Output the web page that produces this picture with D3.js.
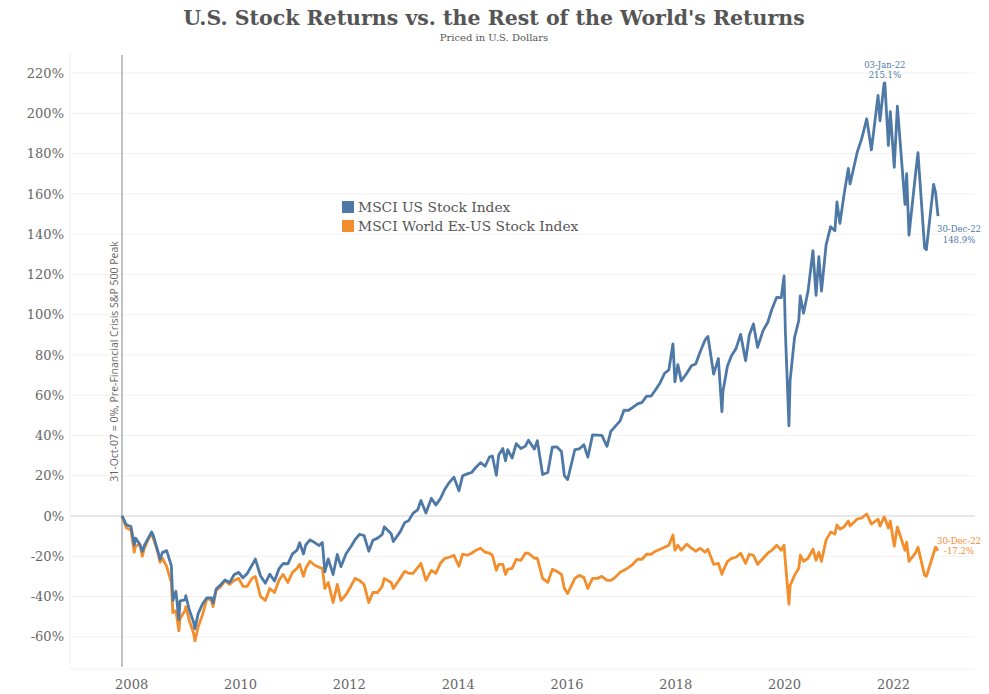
<!DOCTYPE html>
<html><head><meta charset="utf-8">
<script src="https://cdn.jsdelivr.net/npm/d3@7/dist/d3.min.js"></script>
<style>
html,body{margin:0;padding:0;background:#fff;}
svg{display:block;}
</style></head>
<body>
<svg id="chart" width="989" height="694"></svg>
<script>
// ---- DATA (percent change since 31-Oct-07) ----
const dates = [
"2007-10-31","2007-11-30","2007-12-31","2008-01-22","2008-01-31","2008-02-29","2008-03-17","2008-03-31","2008-04-30","2008-05-19","2008-05-30","2008-06-30","2008-07-15","2008-07-31","2008-08-29","2008-09-30","2008-10-10","2008-10-31","2008-11-20","2008-11-28","2008-12-31",
"2009-01-06","2009-01-30","2009-02-27","2009-03-09","2009-03-31","2009-04-30","2009-05-29","2009-06-30","2009-07-10","2009-07-31","2009-08-31","2009-09-30","2009-10-30","2009-11-30","2009-12-31",
"2010-01-29","2010-02-26","2010-03-31","2010-04-23","2010-05-28","2010-06-30","2010-07-30","2010-08-31","2010-09-30","2010-10-29","2010-11-30","2010-12-31",
"2011-01-31","2011-02-18","2011-03-16","2011-03-31","2011-04-29","2011-05-31","2011-06-30","2011-07-22","2011-08-08","2011-08-31","2011-10-03","2011-10-31","2011-11-25","2011-12-30",
"2012-01-31","2012-02-29","2012-03-30","2012-04-30","2012-06-01","2012-06-29","2012-07-31","2012-08-31","2012-09-14","2012-10-31","2012-11-15","2012-12-31",
"2013-01-31","2013-02-28","2013-03-28","2013-04-30","2013-05-21","2013-06-24","2013-07-31","2013-08-30","2013-09-30","2013-10-31","2013-11-29","2013-12-31",
"2014-02-03","2014-02-28","2014-03-31","2014-04-30","2014-05-30","2014-06-30","2014-07-31","2014-08-29","2014-09-18","2014-10-15","2014-10-31","2014-11-28","2014-12-16","2014-12-31",
"2015-01-30","2015-02-27","2015-03-31","2015-04-30","2015-05-21","2015-06-30","2015-07-20","2015-08-25","2015-09-29","2015-10-30","2015-11-30","2015-12-31",
"2016-01-20","2016-02-11","2016-03-31","2016-04-29","2016-05-31","2016-06-27","2016-07-29","2016-08-31","2016-09-30","2016-11-04","2016-11-30","2016-12-30",
"2017-01-31","2017-02-28","2017-03-31","2017-04-28","2017-05-31","2017-06-30","2017-07-31","2017-08-31","2017-09-29","2017-10-31","2017-11-30","2017-12-29",
"2018-01-26","2018-02-08","2018-02-28","2018-03-23","2018-04-30","2018-05-31","2018-06-29","2018-07-31","2018-08-31","2018-09-20","2018-10-29","2018-11-30","2018-12-24","2018-12-31",
"2019-01-31","2019-02-28","2019-03-29","2019-04-30","2019-06-03","2019-06-28","2019-07-26","2019-08-23","2019-09-30","2019-10-31","2019-11-29","2019-12-31",
"2020-01-31","2020-02-19","2020-02-28","2020-03-23","2020-03-31","2020-04-30","2020-05-29","2020-06-08","2020-06-30","2020-07-31","2020-09-02","2020-09-23","2020-10-12","2020-10-30","2020-11-30","2020-12-31",
"2021-01-29","2021-02-12","2021-03-04","2021-03-31","2021-04-30","2021-05-12","2021-06-30","2021-07-30","2021-09-02","2021-10-04","2021-11-18","2021-12-01","2021-12-29",
"2022-01-03","2022-01-27","2022-02-09","2022-03-08","2022-03-29","2022-05-20","2022-05-31","2022-06-16","2022-07-29","2022-08-16","2022-09-30","2022-10-12","2022-11-30","2022-12-13","2022-12-30"
];
const usValues = [
0,-4.4,-5.2,-14.5,-11.0,-14.1,-17.6,-14.6,-10.5,-7.9,-9.6,-17.4,-21.6,-18.2,-17.2,-24.7,-42.0,-37.4,-51.5,-42.2,-41.7,
-39.6,-46.7,-52.5,-56.0,-48.5,-43.6,-40.7,-40.7,-43.2,-36.3,-34.1,-31.8,-33.1,-29.2,-28.0,
-30.7,-28.7,-24.5,-21.4,-29.7,-33.4,-28.9,-32.3,-26.3,-23.6,-23.8,-18.8,
-17.0,-13.3,-18.9,-14.4,-11.9,-13.2,-14.7,-13.2,-27.8,-21.3,-29.1,-19.1,-25.2,-18.8,
-15.3,-11.8,-9.1,-9.7,-17.5,-12.1,-11.0,-9.2,-5.4,-8.8,-12.7,-7.9,
-3.3,-2.2,1.3,3.2,7.7,1.5,8.8,5.4,8.6,13.4,16.6,19.3,
12.5,20.0,20.9,21.6,24.2,26.5,24.7,29.3,29.8,20.2,30.3,33.5,27.4,32.9,
28.8,35.9,33.5,34.7,37.6,33.2,37.4,20.6,21.6,34.2,34.3,32.0,
20.0,18.1,33.0,33.3,35.4,29.2,40.3,40.2,40.0,34.6,42.0,44.5,
47.1,52.6,52.5,53.9,55.7,56.4,59.5,59.6,62.6,66.2,70.9,72.6,
85.5,66.6,75.2,67.1,70.9,74.6,75.5,81.8,87.3,89.2,70.5,78.2,51.8,61.8,
74.6,79.7,83.0,90.2,77.1,89.9,95.4,83.8,92.2,96.1,102.8,108.6,
108.5,119.2,91.2,44.8,67.4,88.6,97.1,109.3,100.7,111.8,131.8,109.6,128.8,111.7,134.5,143.7,
141.7,156.0,145.3,159.1,172.6,164.9,180.8,187.4,197.3,181.8,208.9,196.3,215.0,
215.1,184.0,200.8,173.2,203.5,154.8,170.0,139.5,169.0,180.4,133.1,132.3,164.7,160.8,148.9
];
const exUsValues = [
0,-6.0,-7.0,-18.0,-15.0,-14.0,-20.0,-16.0,-11.0,-9.0,-11.0,-18.0,-23.0,-21.0,-25.0,-33.0,-48.0,-47.0,-57.0,-51.0,-47.0,
-45.0,-52.0,-58.0,-62.0,-55.0,-49.0,-41.0,-42.0,-45.0,-37.0,-35.0,-32.0,-34.0,-32.0,-31.0,
-35.0,-35.0,-31.0,-30.0,-40.0,-42.0,-36.0,-38.0,-32.0,-29.0,-33.0,-28.0,
-26.0,-24.0,-30.0,-26.0,-22.5,-24.5,-25.5,-26.0,-36.0,-33.0,-43.0,-34.0,-42.0,-39.0,
-35.0,-31.0,-32.0,-34.0,-43.0,-38.0,-38.0,-35.0,-31.0,-33.0,-36.0,-31.0,
-27.5,-28.5,-28.5,-25.5,-23.5,-32.0,-27.0,-28.5,-23.5,-21.0,-20.5,-19.5,
-25.0,-19.0,-19.5,-18.5,-17.0,-16.0,-18.0,-18.5,-19.5,-27.0,-24.0,-24.0,-29.0,-26.5,
-26.0,-21.5,-22.0,-18.5,-18.5,-21.0,-21.0,-31.0,-33.0,-26.5,-27.5,-29.0,
-36.0,-38.5,-31.0,-29.5,-30.5,-36.0,-31.0,-31.0,-30.0,-32.0,-32.0,-30.5,
-28.0,-27.0,-25.5,-24.0,-21.5,-21.5,-19.0,-19.0,-17.5,-16.5,-15.5,-14.5,
-9.4,-17.0,-14.5,-17.0,-14.0,-16.0,-17.5,-16.0,-18.0,-16.5,-24.0,-23.5,-29.0,-27.5,
-22.5,-21.0,-20.5,-18.5,-23.5,-19.0,-19.5,-24.0,-21.0,-18.5,-17.0,-14.5,
-17.0,-14.5,-23.0,-43.8,-34.5,-29.5,-26.0,-19.5,-22.5,-21.0,-16.5,-22.0,-18.0,-22.5,-12.0,-8.0,
-9.0,-4.5,-6.5,-5.5,-2.5,-5.0,-1.5,-1.0,1.0,-4.0,-1.5,-5.0,-0.5,
-1.0,-6.0,-2.5,-15.0,-5.5,-17.0,-13.0,-22.5,-18.5,-15.5,-29.5,-30.0,-18.5,-15.5,-17.2
];
const yTicks = [-60,-40,-20,0,20,40,60,80,100,120,140,160,180,200,220];
const xTickYears = [2008,2010,2012,2014,2016,2018,2020,2022];
const seriesNames = ["MSCI US Stock Index","MSCI World Ex-US Stock Index"];
const seriesColors = ["#4e79a7","#f28e2b"];
const title = "U.S. Stock Returns vs. the Rest of the World's Returns";
const subtitle = "Priced in U.S. Dollars";
const baseNote = "31-Oct-07 = 0%, Pre-Financial Crisis S&P 500 Peak";
const peakLabel = ["03-Jan-22","215.1%"];
const endUsLabel = ["30-Dec-22","148.9%"];
const endExLabel = ["30-Dec-22","-17.2%"];

// ---- CHART ----
const parse = d3.timeParse("%Y-%m-%d");
const dts = dates.map(parse);
const svg = d3.select("#chart");
const serif = "'DejaVu Serif', Georgia, serif";
const sans = "'Open Sans', 'DejaVu Sans', sans-serif";

const x = d3.scaleTime().domain([parse("2006-11-12"), parse("2023-09-07")]).range([70, 975]);
const y = d3.scaleLinear().domain([-76, 230]).range([669, 52.9]);

// gridlines
svg.append("g").selectAll("line").data(yTicks).join("line")
  .attr("x1", 70).attr("x2", 975)
  .attr("y1", d => y(d)).attr("y2", d => y(d))
  .attr("stroke", d => d === 0 ? "#cfcfcf" : "#f1f1f1")
  .attr("stroke-width", d => d === 0 ? 1.2 : 1);
// frame lines
svg.append("line").attr("x1",70).attr("x2",70).attr("y1",y(230)).attr("y2",y(-76)).attr("stroke","#f0f0f0");
svg.append("line").attr("x1",70).attr("x2",975).attr("y1",y(-76)).attr("y2",y(-76)).attr("stroke","#f0f0f0");

// y axis
const yAxis = d3.axisLeft(y).tickValues(yTicks).tickSize(0).tickPadding(0).tickFormat(d => d + "%");
const yg = svg.append("g").attr("transform", "translate(64,0)").call(yAxis);
yg.select(".domain").remove();
yg.selectAll("text").attr("font-family", serif).attr("font-size", 13).attr("fill", "#666");

// x axis
const xAxis = d3.axisBottom(x).tickValues(xTickYears.map(yr => new Date(yr, 0, 1)))
  .tickSize(0).tickPadding(0).tickFormat(d3.timeFormat("%Y"));
const xg = svg.append("g").attr("transform", "translate(0,680)").call(xAxis);
xg.select(".domain").remove();
xg.selectAll("text").attr("font-family", serif).attr("font-size", 13).attr("fill", "#666")
  .attr("dx", (d, i) => i * 1.2);

// base date vertical line
const baseX = x(dts[0]);
svg.append("line").attr("x1", baseX).attr("x2", baseX).attr("y1", y(229)).attr("y2", y(-75))
  .attr("stroke", "#a0a0a0").attr("stroke-width", 1.3);
svg.append("text").attr("transform", `translate(${baseX - 4},${y(17)}) rotate(-90)`)
  .attr("text-anchor", "start").attr("font-family", sans).attr("font-size", 10.5)
  .attr("fill", "#666").text(baseNote);

// lines
const line = d3.line().x((d, i) => x(dts[i])).y(d => y(d)).curve(d3.curveLinear);
[exUsValues, usValues].forEach((vals, k) => {
  const c = k === 0 ? seriesColors[1] : seriesColors[0];
  svg.append("path").datum(vals).attr("d", line).attr("fill", "none")
    .attr("stroke", c).attr("stroke-width", 2.8).attr("stroke-linejoin", "round");
});

// legend
const lg = svg.append("g").attr("transform", "translate(342,201)");
seriesNames.forEach((n, i) => {
  lg.append("rect").attr("x", 0).attr("y", i * 19).attr("width", 12).attr("height", 12).attr("fill", seriesColors[i]);
  lg.append("text").attr("x", 16).attr("y", i * 19 + 11).attr("font-family", serif).attr("font-size", 13.8)
    .attr("fill", "#555").text(n);
});

// title
svg.append("text").attr("x", 494).attr("y", 25).attr("text-anchor", "middle")
  .attr("font-family", serif).attr("font-weight", "bold").attr("font-size", 20.5).attr("fill", "#555").text(title);
svg.append("text").attr("x", 494).attr("y", 41).attr("text-anchor", "middle")
  .attr("font-family", serif).attr("font-size", 10).attr("fill", "#555").text(subtitle);

// annotations
const peakIdx = usValues.indexOf(d3.max(usValues));
const px = x(dts[peakIdx]);
peakLabel.forEach((t, i) => {
  svg.append("text").attr("x", px).attr("y", y(usValues[peakIdx]) - 15 + i * 10).attr("text-anchor", "middle")
    .attr("font-family", serif).attr("font-size", 8.5).attr("fill", seriesColors[0]).text(t);
});
const lastIdx = dates.length - 1;
const ex = x(dts[lastIdx]) + 21;
endUsLabel.forEach((t, i) => {
  svg.append("text").attr("x", ex).attr("y", y(usValues[lastIdx]) + 16 + i * 11).attr("text-anchor", "middle")
    .attr("font-family", serif).attr("font-size", 8.5).attr("fill", seriesColors[0]).text(t);
});
endExLabel.forEach((t, i) => {
  svg.append("text").attr("x", ex).attr("y", y(exUsValues[lastIdx]) - 7 + i * 10).attr("text-anchor", "middle")
    .attr("font-family", serif).attr("font-size", 8.5).attr("fill", seriesColors[1]).text(t);
});
</script>
</body></html>
